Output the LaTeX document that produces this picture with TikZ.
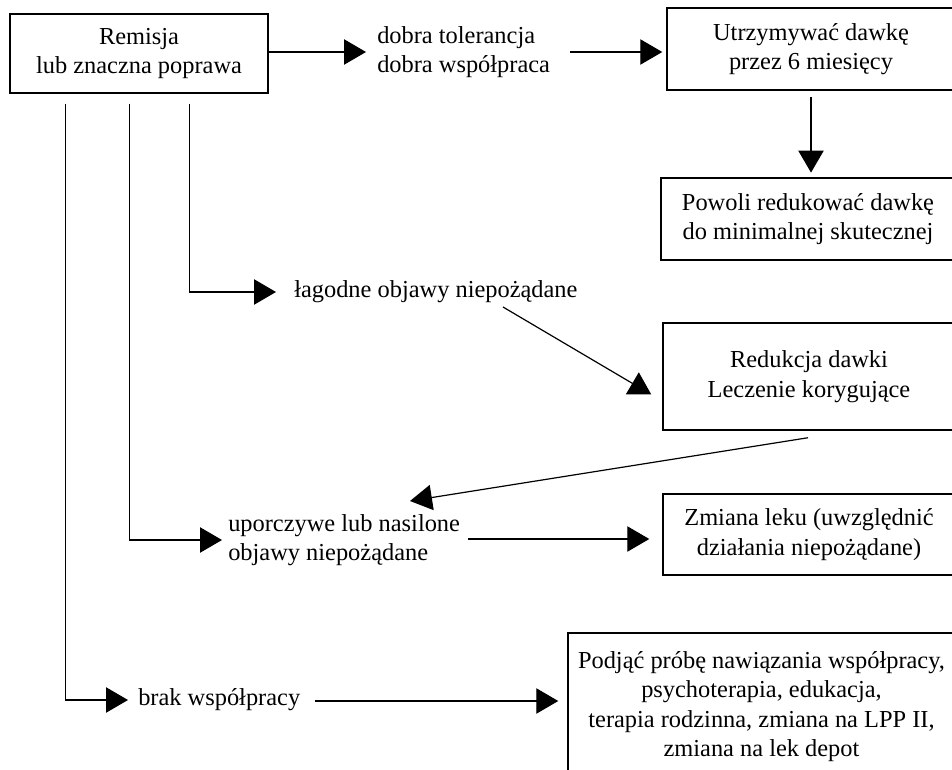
\documentclass[tikz,border=0pt]{standalone}
\usepackage{fontspec}
\setmainfont{Liberation Serif}
\usetikzlibrary{arrows.meta,calc}
\begin{document}
\begin{tikzpicture}[x=0.75pt,y=-0.75pt,
  every node/.style={font=\fontsize{18.3}{22}\selectfont},
  box/.style={draw,line width=1.1pt,align=center,inner sep=0pt},
  lbl/.style={inner sep=0pt,anchor=west,align=left},
  arr/.style={line width=0.9pt,-{Triangle[length=16.5pt,width=19pt]}},
  ln/.style={line width=0.9pt}]
\useasboundingbox (0,0) rectangle (952,770);
\clip (0,0) rectangle (952,770);
% boxes
\node[box,minimum width=193.5pt,minimum height=59.25pt] (b1) at (139,53.5) {Remisja\\lub znaczna poprawa};
\node[box,minimum width=216pt,minimum height=61.5pt] (b2) at (811,49) {Utrzymywać dawkę\\przez 6 miesięcy};
\node[box,minimum width=220.5pt,minimum height=61.5pt] (b3) at (808,219) {Powoli redukować dawkę\\do minimalnej skutecznej};
\node[box,minimum width=219pt,minimum height=80.25pt] (b4) at (809,376.5) {Redukcja dawki\\Leczenie korygujące};
\node[box,minimum width=219pt,minimum height=60.75pt] (b5) at (809,534.5) {Zmiana leku (uwzględnić\\działania niepożądane)};
\node[box,minimum width=290.25pt,minimum height=110.25pt] (b6) at (761.5,706.5) {Podjąć próbę nawiązania współpracy,\\psychoterapia, edukacja,\\terapia rodzinna, zmiana na LPP II,\\zmiana na lek depot};
% labels
\node[lbl] (dobra) at (377,52) {dobra tolerancja\\dobra współpraca};
\node[lbl] (lag) at (294,292) {łagodne objawy niepożądane};
\node[lbl] (upor) at (228,540) {uporczywe lub nasilone\\objawy niepożądane};
\node[lbl] (brak) at (138,700) {brak współpracy};
% connectors
\draw[arr] (b1.east |- dobra.west) -- ([xshift=-8.25pt]dobra.west);
\draw[arr] ($(dobra.west)+(193,0)$) -- ([xshift=-3pt]b2.west |- dobra.west);
\draw[arr] ([yshift=-5pt]b2.south) -- ([yshift=3.5pt]b2.south |- b3.north);
\draw[arr] ($(b1.south west)+(180,10)$) |- ([xshift=-13.5pt]lag.west);
\draw[arr] ($(b1.south west)+(120,10)$) |- ([xshift=-4.5pt]upor.west);
\draw[arr] ($(b1.south west)+(56,10)$) |- ([xshift=-7.5pt]brak.west);
\draw[arr] ($(lag.west)+(209,15)$) -- ($(b4.west)+(-11,18)$);
\draw[arr] ($(b4.south)+(-1,7)$) -- ($(upor.west)+(182,-39)$);
\draw[arr] ($(upor.west)+(240,-1)$) -- ($(b5.west |- upor.west)+(-13,-1)$);
\draw[arr] ($(brak.west)+(177,1)$) -- ($(b6.west |- brak.west)+(-9,1)$);
\end{tikzpicture}
\end{document}
